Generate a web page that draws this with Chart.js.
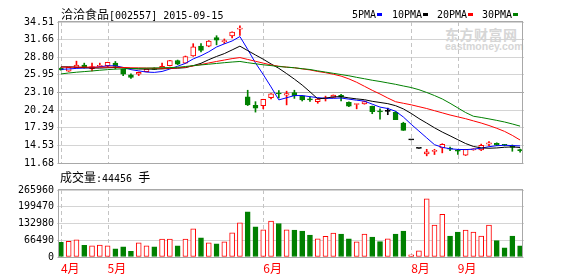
<!DOCTYPE html>
<html>
<head>
<meta charset="utf-8">
<script src="https://cdn.jsdelivr.net/npm/chart.js@4.4.1/dist/chart.umd.min.js"></script>
<style>
  body { margin: 0; background: #fff; }
  #wrap { position: relative; width: 578px; height: 276px; overflow: hidden; }
  canvas { position: absolute; left: 0; }
  .t { position: absolute; white-space: nowrap; font-size: 12px; line-height: 12px; color: #000; }
  .cjk { font-family: "Noto Sans CJK SC"; font-size: 12px; }
  .mono { font-family: "DejaVu Sans Mono"; font-size: 10px; }
  .sw { display: inline-block; width: 5px; height: 3px; margin-left: 1px; vertical-align: 2px; }
  .wm { position: absolute; color: #d6d6d6; font-weight: bold; white-space: nowrap; }
</style>
</head>
<body>
<div id="wrap">
  <div class="wm" style="left:445px;top:24px;font-family:'Noto Sans CJK SC';font-size:14px;letter-spacing:0.5px;">东方财富网</div>
  <div class="wm" style="left:445px;top:40px;font-family:'Liberation Sans';font-size:10.5px;">eastmoney.com</div>

  <canvas id="priceChart" width="578" height="172" style="top:0"></canvas>
  <canvas id="volChart" width="578" height="104" style="top:172px"></canvas>

  <div class="t" style="left:61px;top:8px;"><span class="cjk">洽洽食品</span><span class="mono">[002557] 2015-09-15</span></div>
  <div class="t mono" style="left:352px;top:9px;">5PMA<span class="sw" style="background:#0000ff"></span></div>
  <div class="t mono" style="left:392px;top:9px;">10PMA<span class="sw" style="background:#000"></span></div>
  <div class="t mono" style="left:437px;top:9px;">20PMA<span class="sw" style="background:#ff0000"></span></div>
  <div class="t mono" style="left:482px;top:9px;">30PMA<span class="sw" style="background:#008000"></span></div>
  <div class="t" style="left:60px;top:171px;"><span class="cjk">成交量</span><span class="mono">:44456 </span><span class="cjk">手</span></div>
</div>

<script>
/* ~~~~~~~~~~ DATA ~~~~~~~~~~*/

const monthStarts = [0, 6, 26, 45, 51];
const monthNames = ['4月', '5月', '6月', '8月', '9月'];

const priceTicks = [11.68, 14.53, 17.39, 20.24, 23.10, 25.95, 28.80, 31.66, 34.51];
const volTicks = [0, 66490, 132980, 199470, 265960];

const opens = [
  27.05, 26.53, 27.11, 27.53, 26.95, 27.32, 27.43, 27.85, 26.85, 25.95,
  26.05, 26.48, 27.00, 27.00, 27.43, 28.27, 27.85, 29.01, 30.60, 30.60,
  31.97, 31.34, 32.24, 33.35, 22.41, 21.03, 20.98, 22.24, 22.95, 22.67,
  23.09, 22.56, 21.98, 21.61, 22.08, 22.30, 22.62, 21.51, 21.15, 21.24,
  20.87, 20.05, 20.03, 19.87, 18.13, 15.43, 14.06, 13.16, 13.55, 14.11,
  14.11, 13.66, 12.95, 13.80, 13.79, 14.74, 14.85, 14.65, 14.48, 13.75
];
const highs = [
  27.15, 27.20, 28.17, 27.85, 27.85, 27.85, 28.00, 28.12, 26.90, 26.10,
  26.40, 26.95, 27.10, 27.85, 28.30, 28.35, 29.00, 31.00, 31.00, 31.50,
  32.29, 31.76, 32.90, 33.88, 23.46, 21.61, 22.00, 22.90, 23.41, 23.31,
  23.46, 22.60, 22.41, 22.10, 22.51, 22.70, 22.78, 21.60, 21.22, 21.70,
  20.90, 20.45, 20.56, 20.03, 18.28, 15.43, 14.06, 13.90, 13.90, 14.80,
  14.27, 13.90, 13.90, 14.00, 14.74, 15.16, 14.95, 14.70, 14.60, 13.95
];
const lows = [
  26.70, 26.50, 27.05, 27.05, 26.60, 27.30, 27.20, 26.90, 25.84, 25.37,
  25.84, 26.45, 26.80, 26.95, 27.40, 27.60, 27.80, 28.95, 29.65, 30.50,
  30.81, 31.02, 31.92, 32.34, 20.98, 19.92, 20.45, 22.04, 22.20, 21.09,
  22.14, 21.72, 21.67, 21.35, 21.72, 22.25, 21.72, 20.80, 20.45, 21.20,
  19.66, 18.76, 19.50, 18.70, 16.95, 15.43, 14.06, 12.84, 13.05, 13.32,
  13.69, 13.05, 12.89, 13.75, 13.69, 14.47, 14.50, 14.45, 13.58, 13.42
];
const closes = [
  26.75, 27.16, 27.53, 27.11, 27.30, 27.48, 27.96, 27.32, 26.05, 25.52,
  26.37, 26.90, 26.85, 27.32, 28.27, 27.69, 28.90, 30.49, 29.91, 31.44,
  31.55, 31.45, 32.87, 33.42, 21.09, 20.56, 21.99, 22.88, 22.85, 22.93,
  22.56, 21.88, 21.90, 22.04, 22.16, 22.67, 22.35, 20.89, 21.20, 21.61,
  19.98, 19.97, 20.03, 18.71, 16.96, 15.43, 14.06, 13.47, 13.60, 14.69,
  13.90, 13.60, 13.90, 13.98, 14.53, 14.95, 14.58, 14.55, 14.21, 13.68
];

const ma5 = [
  26.85, 26.90, 27.00, 27.05, 27.12, 27.25, 27.42, 27.42, 27.15, 26.80,
  26.60, 26.40, 26.35, 26.50, 26.90, 27.35, 27.81, 28.53, 29.05, 29.69,
  30.46, 30.97, 31.44, 32.15, 30.08, 27.88, 26.00, 24.00, 21.90, 22.24,
  22.60, 22.60, 22.42, 22.26, 22.15, 22.15, 22.20, 22.02, 21.85, 21.70,
  21.21, 20.73, 20.50, 20.06, 19.13, 17.95, 16.85, 15.75, 14.65, 14.22,
  13.98, 13.88, 13.85, 13.92, 14.08, 14.32, 14.48, 14.55, 14.50, 14.45
];
const ma10 = [
  27.25, 27.25, 27.20, 27.12, 27.06, 27.05, 27.10, 27.15, 27.10, 26.98,
  26.90, 26.88, 26.88, 26.92, 27.00, 27.03, 27.12, 27.44, 27.82, 28.41,
  28.93, 29.39, 29.99, 30.60, 29.88, 29.17, 28.48, 27.72, 27.01, 26.16,
  25.26, 24.30, 23.21, 22.07, 22.18, 22.39, 22.42, 22.22, 22.06, 21.93,
  21.67, 21.48, 21.29, 20.96, 20.44, 19.71, 18.88, 18.14, 17.38, 16.69,
  16.08, 15.45, 14.83, 14.36, 14.12, 14.07, 14.12, 14.23, 14.29, 14.19
];
const ma20 = [
  27.20, 27.20, 27.20, 27.20, 27.20, 27.20, 27.20, 27.20, 27.15, 27.10,
  27.08, 27.05, 27.03, 27.00, 27.02, 27.08, 27.20, 27.40, 27.62, 27.88,
  28.12, 28.35, 28.58, 28.75, 28.45, 28.15, 27.85, 27.55, 27.35, 27.20,
  27.10, 26.92, 26.75, 26.50, 26.30, 26.05, 25.75, 25.30, 24.75, 24.10,
  23.45, 22.85, 22.20, 21.60, 21.35, 21.10, 20.80, 20.50, 20.15, 19.80,
  19.45, 19.15, 18.85, 18.50, 18.15, 17.75, 17.30, 16.80, 16.15, 15.40
];
const ma30 = [
  26.10, 26.25, 26.38, 26.48, 26.58, 26.70, 26.80, 26.88, 26.93, 26.97,
  27.00, 27.03, 27.06, 27.10, 27.13, 27.18, 27.30, 27.45, 27.56, 27.68,
  27.80, 27.92, 28.03, 28.12, 27.92, 27.75, 27.58, 27.45, 27.30, 27.20,
  27.10, 26.95, 26.82, 26.60, 26.40, 26.20, 26.00, 25.80, 25.55, 25.32,
  25.08, 24.88, 24.65, 24.42, 24.15, 23.90, 23.55, 23.10, 22.60, 22.05,
  21.35, 20.60, 19.85, 19.25, 19.05, 18.82, 18.58, 18.32, 18.00, 17.65
];

const volumes = [
  57900, 61900, 68500, 46100, 44800, 47400, 44800, 32900, 40800, 22400,
  56600, 44800, 40800, 71100, 71100, 44800, 71100, 111900, 76400, 56600,
  52700, 60600, 96100, 135600, 179100, 119800, 108000, 142200, 133000, 108000,
  106900, 103000, 87300, 71700, 82100, 95200, 91300, 71700, 60000, 91300,
  79500, 61300, 71700, 91300, 103000, 9100, 24800, 230800, 126500, 169500,
  83400, 99100, 106900, 99100, 83400, 126500, 65200, 36500, 83400, 44456
];

const days = opens.map((_, i) => {
  const m = monthStarts.indexOf(i);
  return m >= 0 ? monthNames[m] : '';
});

/* ~~~~~~~~~~ COLORS ~~~~~~~~~~*/

const RED = '#ff0000';
const GREEN = '#008000';

const candleColor = opens.map((o, i) => closes[i] > o ? RED : closes[i] < o ? GREEN : '#000000');
const bodyFill = opens.map((o, i) => closes[i] > o ? '#ffffff' : closes[i] < o ? GREEN : '#000000');
const volColor = opens.map((o, i) => closes[i] < o ? GREEN : RED);
const volFill = opens.map((o, i) => closes[i] < o ? GREEN : '#ffffff');

/* ~~~~~~~~~~ PLUGINS ~~~~~~~~~~*/

const monthLines = {
  id: 'monthLines',
  beforeDatasetsDraw(chart) {
    const { ctx, chartArea, scales } = chart;
    ctx.save();
    ctx.strokeStyle = '#c4c4c4';
    ctx.lineWidth = 1;
    ctx.setLineDash([4, 3]);
    monthStarts.forEach(idx => {
      const x = Math.round(scales.x.getPixelForValue(idx)) + 0.5;
      ctx.beginPath();
      ctx.moveTo(x, chartArea.top);
      ctx.lineTo(x, chartArea.bottom);
      ctx.stroke();
    });
    ctx.restore();
  }
};

const frame = {
  id: 'frame',
  afterDatasetsDraw(chart) {
    const { ctx, chartArea } = chart;
    ctx.save();
    ctx.strokeStyle = '#a8a8a8';
    ctx.lineWidth = 1;
    const l = chartArea.left + 1.5, r = chartArea.right - 1.5;
    const t = chartArea.top - 0.5, b = chartArea.bottom + 0.5;
    ctx.strokeRect(l, t, r - l, b - t);
    ctx.restore();
  }
};

Chart.defaults.font.family = 'DejaVu Sans Mono';
Chart.defaults.font.size = 10;
Chart.defaults.color = '#000';

const maLine = (data, color) => ({
  type: 'line',
  data: data,
  borderColor: color,
  borderWidth: 1,
  pointRadius: 0,
  tension: 0,
  fill: false,
  order: 1
});

/* ~~~~~~~~~~ PRICE CHART ~~~~~~~~~~*/

new Chart(document.getElementById('priceChart'), {
  type: 'bar',
  data: {
    labels: days,
    datasets: [
      maLine(ma30, GREEN),
      maLine(ma20, RED),
      maLine(ma10, '#000000'),
      maLine(ma5, '#0000ff'),
      {
        data: opens.map((o, i) => [o, closes[i]]),
        backgroundColor: bodyFill,
        borderColor: candleColor,
        borderWidth: 1,
        borderSkipped: false,
        barThickness: 5,
        minBarLength: 1,
        grouped: false,
        order: 2
      },
      {
        data: lows.map((l, i) => [l, highs[i]]),
        backgroundColor: candleColor,
        borderWidth: 0,
        barThickness: 1,
        grouped: false,
        order: 3
      }
    ]
  },
  options: {
    responsive: false,
    animation: false,
    events: [],
    layout: { padding: { top: 22, right: 54, bottom: 6, left: 0 } },
    plugins: { legend: { display: false }, tooltip: { enabled: false } },
    scales: {
      x: { display: false, offset: true },
      y: {
        min: 11.68,
        max: 34.51,
        afterBuildTicks: axis => { axis.ticks = priceTicks.map(v => ({ value: v })); },
        afterFit: axis => { axis.width = 57; },
        ticks: { autoSkip: false, padding: 3, callback: v => v.toFixed(2) },
        grid: {
          drawTicks: false,
          color: ctx => ctx.index === 4 ? '#a8a8a8' : '#d4d4d4'
        },
        border: { display: false }
      }
    }
  },
  plugins: [monthLines, frame]
});

/* ~~~~~~~~~~ VOLUME CHART ~~~~~~~~~~*/

new Chart(document.getElementById('volChart'), {
  type: 'bar',
  data: {
    labels: days,
    datasets: [{
      data: volumes,
      backgroundColor: volFill,
      borderColor: volColor,
      borderWidth: 1,
      borderSkipped: false,
      barThickness: 5
    }]
  },
  options: {
    responsive: false,
    animation: false,
    events: [],
    layout: { padding: { top: 18, right: 54, bottom: 0, left: 0 } },
    plugins: { legend: { display: false }, tooltip: { enabled: false } },
    scales: {
      x: {
        offset: true,
        afterFit: axis => { axis.height = 19; },
        ticks: {
          autoSkip: false,
          maxRotation: 0,
          align: 'start',
          padding: 4,
          color: RED,
          font: { family: 'Noto Sans CJK SC', size: 12 },
          callback: (v, i) => days[i]
        },
        grid: { display: false, drawTicks: false },
        border: { display: false }
      },
      y: {
        min: 0,
        max: 265960,
        afterBuildTicks: axis => { axis.ticks = volTicks.map(v => ({ value: v })); },
        afterFit: axis => { axis.width = 57; },
        ticks: { autoSkip: false, padding: 3, callback: v => String(v) },
        grid: { drawTicks: false, color: '#d4d4d4' },
        border: { display: false }
      }
    }
  },
  plugins: [monthLines, frame]
});
</script>
</body>
</html>
